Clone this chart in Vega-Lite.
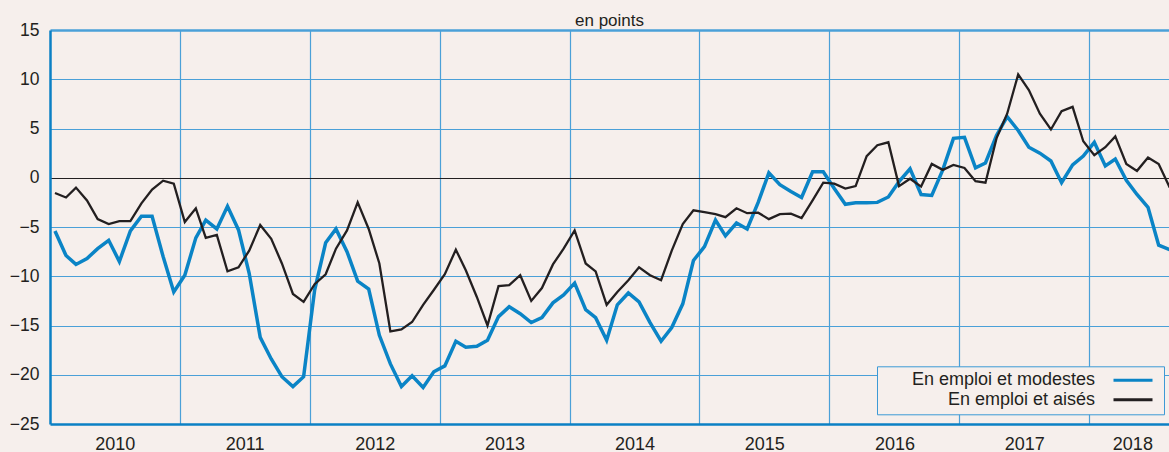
{
  "$schema": "https://vega.github.io/schema/vega-lite/v6.json",
  "width": 1119,
  "height": 394,
  "autosize": {"type": "none"},
  "padding": {"left": 50, "top": 30, "right": 0, "bottom": 28},
  "background": "#f6efec",
  "title": {"text": "en points", "fontSize": 17, "font": "Liberation Sans", "fontWeight": "normal", "color": "#231f20", "anchor": "middle", "frame": "group", "baseline": "alphabetic", "offset": 4.5, "dy": 26.5},
  "config": {"view": {"stroke": null}, "font": "Liberation Sans"},
  "data": {"values": [
    {"date": "2010-01-15", "modestes": -5.4, "aises": -1.55},
    {"date": "2010-02-15", "modestes": -7.9, "aises": -2.0},
    {"date": "2010-03-15", "modestes": -8.8, "aises": -1.0},
    {"date": "2010-04-15", "modestes": -8.2, "aises": -2.3},
    {"date": "2010-05-15", "modestes": -7.2, "aises": -4.2},
    {"date": "2010-06-15", "modestes": -6.35, "aises": -4.7},
    {"date": "2010-07-15", "modestes": -8.5, "aises": -4.4},
    {"date": "2010-08-15", "modestes": -5.4, "aises": -4.4},
    {"date": "2010-09-15", "modestes": -3.9, "aises": -2.6},
    {"date": "2010-10-15", "modestes": -3.9, "aises": -1.2},
    {"date": "2010-11-15", "modestes": -8.0, "aises": -0.3},
    {"date": "2010-12-15", "modestes": -11.6, "aises": -0.6},
    {"date": "2011-01-15", "modestes": -9.9, "aises": -4.5},
    {"date": "2011-02-15", "modestes": -6.1, "aises": -3.1},
    {"date": "2011-03-15", "modestes": -4.3, "aises": -6.1},
    {"date": "2011-04-15", "modestes": -5.2, "aises": -5.8},
    {"date": "2011-05-15", "modestes": -2.9, "aises": -9.5},
    {"date": "2011-06-15", "modestes": -5.3, "aises": -9.1},
    {"date": "2011-07-15", "modestes": -9.7, "aises": -7.4},
    {"date": "2011-08-15", "modestes": -16.2, "aises": -4.8},
    {"date": "2011-09-15", "modestes": -18.4, "aises": -6.2},
    {"date": "2011-10-15", "modestes": -20.2, "aises": -8.7},
    {"date": "2011-11-15", "modestes": -21.2, "aises": -11.8},
    {"date": "2011-12-15", "modestes": -20.2, "aises": -12.6},
    {"date": "2012-01-15", "modestes": -11.4, "aises": -10.8},
    {"date": "2012-02-15", "modestes": -6.6, "aises": -9.8},
    {"date": "2012-03-15", "modestes": -5.2, "aises": -7.2},
    {"date": "2012-04-15", "modestes": -7.5, "aises": -5.35},
    {"date": "2012-05-15", "modestes": -10.5, "aises": -2.5},
    {"date": "2012-06-15", "modestes": -11.3, "aises": -5.2},
    {"date": "2012-07-15", "modestes": -16.0, "aises": -8.7},
    {"date": "2012-08-15", "modestes": -18.9, "aises": -15.6},
    {"date": "2012-09-15", "modestes": -21.2, "aises": -15.4},
    {"date": "2012-10-15", "modestes": -20.1, "aises": -14.65},
    {"date": "2012-11-15", "modestes": -21.3, "aises": -12.9},
    {"date": "2012-12-15", "modestes": -19.7, "aises": -11.4},
    {"date": "2013-01-15", "modestes": -19.1, "aises": -9.8},
    {"date": "2013-02-15", "modestes": -16.6, "aises": -7.3},
    {"date": "2013-03-15", "modestes": -17.2, "aises": -9.4},
    {"date": "2013-04-15", "modestes": -17.1, "aises": -12.1},
    {"date": "2013-05-15", "modestes": -16.5, "aises": -15.0},
    {"date": "2013-06-15", "modestes": -14.1, "aises": -11.0},
    {"date": "2013-07-15", "modestes": -13.1, "aises": -10.9},
    {"date": "2013-08-15", "modestes": -13.8, "aises": -9.9},
    {"date": "2013-09-15", "modestes": -14.7, "aises": -12.5},
    {"date": "2013-10-15", "modestes": -14.2, "aises": -11.2},
    {"date": "2013-11-15", "modestes": -12.7, "aises": -8.8},
    {"date": "2013-12-15", "modestes": -11.9, "aises": -7.2},
    {"date": "2014-01-15", "modestes": -10.7, "aises": -5.35},
    {"date": "2014-02-15", "modestes": -13.4, "aises": -8.7},
    {"date": "2014-03-15", "modestes": -14.2, "aises": -9.5},
    {"date": "2014-04-15", "modestes": -16.5, "aises": -12.9},
    {"date": "2014-05-15", "modestes": -12.9, "aises": -11.6},
    {"date": "2014-06-15", "modestes": -11.7, "aises": -10.4},
    {"date": "2014-07-15", "modestes": -12.6, "aises": -9.1},
    {"date": "2014-08-15", "modestes": -14.7, "aises": -9.9},
    {"date": "2014-09-15", "modestes": -16.6, "aises": -10.4},
    {"date": "2014-10-15", "modestes": -15.2, "aises": -7.4},
    {"date": "2014-11-15", "modestes": -12.8, "aises": -4.7},
    {"date": "2014-12-15", "modestes": -8.4, "aises": -3.3},
    {"date": "2015-01-15", "modestes": -7.0, "aises": -3.5},
    {"date": "2015-02-15", "modestes": -4.3, "aises": -3.7},
    {"date": "2015-03-15", "modestes": -5.9, "aises": -4.0},
    {"date": "2015-04-15", "modestes": -4.6, "aises": -3.1},
    {"date": "2015-05-15", "modestes": -5.2, "aises": -3.6},
    {"date": "2015-06-15", "modestes": -2.5, "aises": -3.55},
    {"date": "2015-07-15", "modestes": 0.5, "aises": -4.2},
    {"date": "2015-08-15", "modestes": -0.7, "aises": -3.7},
    {"date": "2015-09-15", "modestes": -1.4, "aises": -3.65},
    {"date": "2015-10-15", "modestes": -2.0, "aises": -4.1},
    {"date": "2015-11-15", "modestes": 0.6, "aises": -2.3},
    {"date": "2015-12-15", "modestes": 0.6, "aises": -0.5},
    {"date": "2016-01-15", "modestes": -1.1, "aises": -0.6},
    {"date": "2016-02-15", "modestes": -2.7, "aises": -1.1},
    {"date": "2016-03-15", "modestes": -2.55, "aises": -0.85},
    {"date": "2016-04-15", "modestes": -2.55, "aises": 2.2},
    {"date": "2016-05-15", "modestes": -2.5, "aises": 3.3},
    {"date": "2016-06-15", "modestes": -1.95, "aises": 3.6},
    {"date": "2016-07-15", "modestes": -0.4, "aises": -0.85},
    {"date": "2016-08-15", "modestes": 0.9, "aises": -0.1},
    {"date": "2016-09-15", "modestes": -1.7, "aises": -0.9},
    {"date": "2016-10-15", "modestes": -1.8, "aises": 1.4},
    {"date": "2016-11-15", "modestes": 0.8, "aises": 0.8},
    {"date": "2016-12-15", "modestes": 4.0, "aises": 1.3},
    {"date": "2017-01-15", "modestes": 4.1, "aises": 1.0},
    {"date": "2017-02-15", "modestes": 1.0, "aises": -0.35},
    {"date": "2017-03-15", "modestes": 1.5, "aises": -0.5},
    {"date": "2017-04-15", "modestes": 4.3, "aises": 4.0},
    {"date": "2017-05-15", "modestes": 6.2, "aises": 6.5},
    {"date": "2017-06-15", "modestes": 4.8, "aises": 10.5},
    {"date": "2017-07-15", "modestes": 3.1, "aises": 8.9},
    {"date": "2017-08-15", "modestes": 2.5, "aises": 6.5},
    {"date": "2017-09-15", "modestes": 1.7, "aises": 4.9},
    {"date": "2017-10-15", "modestes": -0.5, "aises": 6.75},
    {"date": "2017-11-15", "modestes": 1.3, "aises": 7.2},
    {"date": "2017-12-15", "modestes": 2.2, "aises": 3.7},
    {"date": "2018-01-15", "modestes": 3.6, "aises": 2.3},
    {"date": "2018-02-15", "modestes": 1.2, "aises": 3.1},
    {"date": "2018-03-15", "modestes": 1.9, "aises": 4.2},
    {"date": "2018-04-15", "modestes": -0.25, "aises": 1.4},
    {"date": "2018-05-15", "modestes": -1.7, "aises": 0.7},
    {"date": "2018-06-15", "modestes": -3.0, "aises": 2.05},
    {"date": "2018-07-15", "modestes": -6.85, "aises": 1.4},
    {"date": "2018-08-15", "modestes": -7.3, "aises": -1.0}
  ]},
  "transform": [{"fold": ["modestes", "aises"], "as": ["serie", "value"]}],
  "encoding": {
    "x": {
      "field": "date",
      "type": "temporal",
      "scale": {"type": "utc", "domain": [{"year": 2010, "month": 1, "date": 1, "utc": true}, {"year": 2018, "month": 8, "date": 13, "utc": true}]},
      "axis": {
        "title": null,
        "values": [
          {"year": 2011, "month": 1, "date": 1, "utc": true},
          {"year": 2012, "month": 1, "date": 1, "utc": true},
          {"year": 2013, "month": 1, "date": 1, "utc": true},
          {"year": 2014, "month": 1, "date": 1, "utc": true},
          {"year": 2015, "month": 1, "date": 1, "utc": true},
          {"year": 2016, "month": 1, "date": 1, "utc": true},
          {"year": 2017, "month": 1, "date": 1, "utc": true},
          {"year": 2018, "month": 1, "date": 1, "utc": true},
          {"year": 2010, "month": 7, "date": 2, "utc": true},
          {"year": 2011, "month": 7, "date": 2, "utc": true},
          {"year": 2012, "month": 7, "date": 2, "utc": true},
          {"year": 2013, "month": 7, "date": 2, "utc": true},
          {"year": 2014, "month": 7, "date": 2, "utc": true},
          {"year": 2015, "month": 7, "date": 2, "utc": true},
          {"year": 2016, "month": 7, "date": 2, "utc": true},
          {"year": 2017, "month": 7, "date": 2, "utc": true},
          {"year": 2018, "month": 5, "date": 2, "utc": true}
        ],
        "labelExpr": "utcmonth(datum.value) == 0 ? '' : utcFormat(datum.value, '%Y')",
        "ticks": false,
        "grid": true,
        "gridColor": "#4aa0d8",
        "gridWidth": 1.2,
        "gridOpacity": {"condition": {"test": "utcmonth(datum.value) == 0", "value": 1}, "value": 0},
        "domainColor": "#0b80c5",
        "domainWidth": 2.5,
        "labelFont": "Liberation Sans",
        "labelFontSize": 18,
        "labelColor": "#231f20",
        "labelPadding": 11,
        "labelAlign": "center",
        "labelOverlap": false,
        "labelFlush": false
      }
    },
    "y": {
      "field": "value",
      "type": "quantitative",
      "scale": {"domain": [-25, 15], "nice": false, "zero": false},
      "axis": {
        "title": null,
        "values": [-25, -20, -15, -10, -5, 0, 5, 10, 15],
        "ticks": false,
        "grid": true,
        "gridColor": {"condition": {"test": "datum.value == 0", "value": "#231f20"}, "value": "#4aa0d8"},
        "gridWidth": {"condition": {"test": "datum.value == 15", "value": 2.5}, "value": 1.2},
        "gridOpacity": {"condition": {"test": "datum.value == -25", "value": 0}, "value": 1},
        "domainColor": "#0b80c5",
        "domainWidth": 2.5,
        "labelFont": "Liberation Sans",
        "labelFontSize": 17.5,
        "labelColor": "#231f20",
        "labelPadding": 11
      }
    },
    "color": {
      "field": "serie",
      "type": "nominal",
      "scale": {"domain": ["modestes", "aises"], "range": ["#0a84c6", "#231f20"]},
      "legend": {
        "orient": "none",
        "legendX": 827,
        "legendY": 336.3,
        "title": null,
        "direction": "vertical",
        "symbolType": "M-3.9,0H3.9",
        "symbolSize": 100,
        "symbolStrokeWidth": 3,
        "labelAlign": "right",
        "labelOffset": -47,
        "symbolOffset": 242,
        "labelFont": "Liberation Sans",
        "labelFontSize": 18,
        "labelColor": "#231f20",
        "labelLimit": 400,
        "labelExpr": "datum.label == 'modestes' ? '     En emploi et modestes' : 'En emploi et aisés'",
        "padding": 5,
        "strokeColor": "#3d9ad6",
        "fillColor": "#f6efec",
        "rowPadding": 1.4
      }
    }
  },
  "layer": [
    {"transform": [{"filter": "datum.serie == 'modestes'"}], "mark": {"type": "line", "strokeWidth": 3.5, "clip": true}},
    {"transform": [{"filter": "datum.serie == 'aises'"}], "mark": {"type": "line", "strokeWidth": 2.3, "clip": true}}
  ]
}
